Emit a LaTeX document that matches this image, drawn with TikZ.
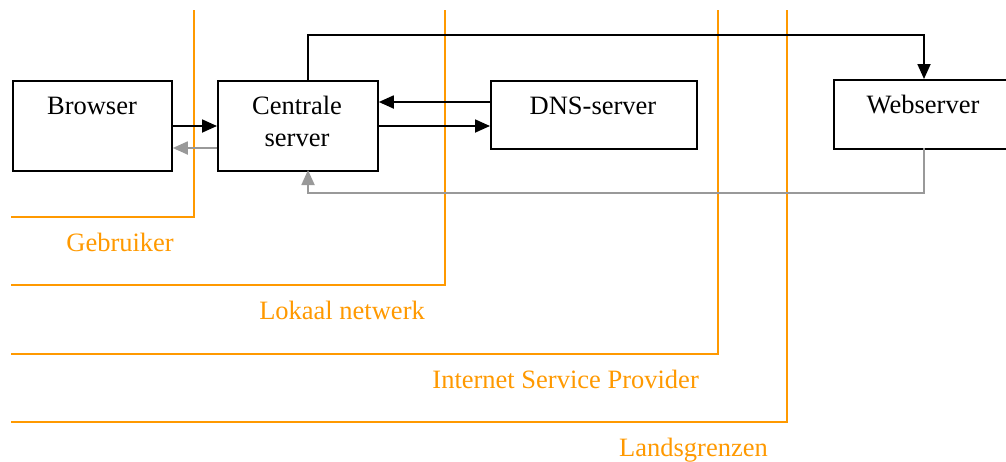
\documentclass[tikz,border=0pt]{standalone}
\usepackage{fontspec}
\setmainfont{Liberation Serif}
\usetikzlibrary{arrows.meta}
\definecolor{borange}{HTML}{FF9900}
\definecolor{bgray}{HTML}{999999}
\begin{document}
\begin{tikzpicture}[x=1pt,y=-1pt,
  box/.style={draw=black,line width=1.8pt,minimum width=#1,minimum height=0,inner sep=0,anchor=north west},
  lbl/.style={font=\fontsize{26.5}{32}\selectfont,inner sep=0,anchor=base,align=center},
  olbl/.style={font=\fontsize{26.5}{32}\selectfont,inner sep=0,anchor=base east,text=borange},
  border/.style={draw=borange,line width=2pt},
  arr/.style={line width=1.8pt,-{Triangle[length=15pt,width=13pt]}},
  garr/.style={line width=1.8pt,draw=bgray,-{Triangle[length=15pt,width=13pt]},color=bgray}]
\useasboundingbox (0,0) rectangle (1006,461);
% boxes
\node[box] (br) at (12,80) {\rule{0pt}{90pt}\rule{159pt}{0pt}};
\node[box] (cs) at (217,80) {\rule{0pt}{90pt}\rule{160pt}{0pt}};
\node[box] (dns) at (490,80) {\rule{0pt}{68pt}\rule{206pt}{0pt}};
\node[box] (ws) at (833,79) {\rule{0pt}{69pt}\rule{180pt}{0pt}};
% texts
\node[lbl] (brt) at (92,114) {Browser};
\node[lbl] (cst1) at (297,114) {Centrale};
\node[lbl] (cst2) at (297,146) {server};
\node[lbl] (dnst) at (593,114) {DNS-server};
\node[lbl] (wst) at (923,113) {Webserver};
% orange borders
\coordinate (g1) at (194,10); \coordinate (g2) at (194,216.5); \coordinate (g3) at (11,216.5);
\coordinate (l1) at (445,10); \coordinate (l2) at (445,285); \coordinate (l3) at (11,285);
\coordinate (i1) at (718,10); \coordinate (i2) at (718,353.5); \coordinate (i3) at (11,353.5);
\coordinate (n1) at (787,10); \coordinate (n2) at (787,421.5); \coordinate (n3) at (11,421.5);
\draw[border] (g1) -- (g2) -- (g3);
\draw[border] (l1) -- (l2) -- (l3);
\draw[border] (i1) -- (i2) -- (i3);
\draw[border] (n1) -- (n2) -- (n3);
\node[olbl] (gt) at (174,251) {Gebruiker};
\node[olbl] (lt) at (425,319) {Lokaal netwerk};
\node[olbl] (it) at (699,388) {Internet Service Provider};
\node[olbl] (nt) at (768,456) {Landsgrenzen};
% arrows
\draw[arr] (br.east |- 0,126) -- (cs.west |- 0,126);
\draw[garr] (cs.west |- 0,148) -- (br.east |- 0,148);
\draw[arr] (dns.west |- 0,102) -- (cs.east |- 0,102);
\draw[arr] (cs.east |- 0,126) -- (dns.west |- 0,126);
\coordinate (cstop) at (308,80);
\coordinate (csbot) at (308,170);
\coordinate (wstop) at (924,79);
\coordinate (wsbot) at (924,148);
\draw[arr] (cstop) -- (308,35) -| (wstop);
\draw[garr] (wsbot) -- (924,193) -| (csbot);
\end{tikzpicture}
\end{document}
